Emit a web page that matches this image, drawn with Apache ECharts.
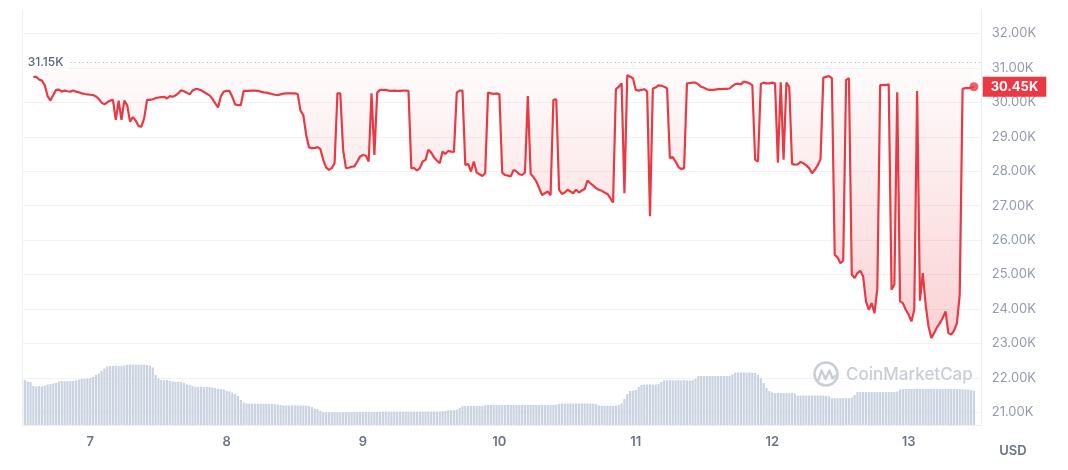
<!DOCTYPE html>
<html>
<head>
<meta charset="utf-8">
<script src="https://cdn.jsdelivr.net/npm/echarts@6/dist/echarts.min.js"></script>
<style>
  html, body { margin: 0; padding: 0; background: #ffffff; }
  #chart { width: 1068px; height: 470px; }
</style>
</head>
<body>
<div id="chart"></div>
<script>
// ---- time base (day of month, fractional) ----
const priceStart = 6 + 14 / 24;      // first price sample: day 6, 14:00
const volumeStart = 6 + 12.5 / 24;   // first volume bar: day 6, 12:30
const stepDays = 1 / 48;             // 30-minute samples
const axisMinDay = 6.505;
const axisMaxDay = 13.536;

// ---- reference level and price axis ticks ----
const refLevel = 31150;
const priceTicks = [21000, 22000, 23000, 24000, 25000, 26000, 27000, 28000, 29000, 30000, 31000, 32000];
const dayLabels = [7, 8, 9, 10, 11, 12, 13];

// ---- price (USD), 30-min samples ----
const priceValues = [
  30740, 30740, 30660, 30630, 30500, 30180, 30050, 30210, 30360, 30370,
  30310, 30340, 30320, 30310, 30340, 30310, 30290, 30260, 30240, 30230,
  30220, 30210, 30170, 30100, 29990, 29940, 30000, 30050, 30070, 29490,
  30050, 29490, 30050, 29920, 29440, 29570, 29470, 29310, 29290, 29540,
  30070, 30070, 30090, 30120, 30140, 30150, 30160, 30110, 30180, 30160,
  30200, 30260, 30350, 30320, 30280, 30230, 30340, 30380, 30380, 30350,
  30300, 30250, 30200, 30100, 29970, 29850, 30180, 30310, 30330, 30330,
  30160, 29940, 29920, 29920, 30330, 30330, 30330, 30340, 30340, 30330,
  30310, 30290, 30280, 30260, 30240, 30220, 30210, 30230, 30250, 30260,
  30260, 30260, 30260, 30240, 29760, 29630, 29050, 28690, 28670, 28670,
  28700, 28640, 28330, 28110, 28040, 28090, 28230, 30260, 30260, 28620,
  28090, 28100, 28130, 28140, 28280, 28430, 28470, 28450, 28280, 30260,
  28470, 30280, 30360, 30360, 30360, 30340, 30330, 30340, 30330, 30330,
  30340, 30340, 30330, 28090, 28090, 28020, 28090, 28280, 28330, 28620,
  28540, 28400, 28310, 28230, 28570, 28500, 28590, 28570, 28560, 30280,
  30340, 30340, 28180, 28210, 27990, 28280, 27960, 27910, 27860, 27940,
  30280, 30260, 30240, 30260, 30230, 27950, 27890, 27870, 27850, 28040,
  27990, 27910, 27890, 27960, 30180, 27920, 27830, 27700, 27510, 27310,
  27360, 27410, 27300, 30070, 30090, 27460, 27340, 27380, 27460, 27410,
  27360, 27460, 27380, 27440, 27480, 27730, 27650, 27580, 27510, 27460,
  27430, 27380, 27340, 27220, 27090, 30380, 30450, 30550, 27360, 30790,
  30740, 30700, 30360, 30340, 30360, 30380, 30310, 26690, 30400, 30430,
  30490, 30480, 30450, 30410, 28380, 28410, 28280, 28120, 28060, 28090,
  30550, 30560, 30570, 30570, 30520, 30450, 30420, 30380, 30360, 30360,
  30370, 30380, 30380, 30390, 30390, 30400, 30470, 30530, 30540, 30520,
  30600, 30580, 30550, 30500, 28330, 28280, 30530, 30570, 30550, 30550,
  30570, 30550, 28250, 30580, 28330, 30570, 30450, 28210, 28190, 28200,
  28270, 28230, 28170, 28090, 27940, 28040, 28170, 28350, 30720, 30740,
  30760, 30700, 25570, 25500, 25330, 25400, 30650, 30700, 25000, 24900,
  25040, 25110, 24950, 24220, 23980, 24170, 23880, 24600, 30500, 30500,
  30500, 30520, 24560, 24710, 30290, 24220, 24170, 23980, 23840, 23640,
  23980, 30330, 24240, 25040, 24130, 23500, 23160, 23300, 23470, 23590,
  23740, 23930, 23300, 23260, 23370, 23590, 24420, 30390, 30410, 30410,
  30420, 30450
];

// ---- volume (relative units), 30-min bars ----
const volumeValues = [
  45, 43.5, 43, 39, 38.5, 39, 38.5, 39.5, 40.5, 41,
  41.5, 42, 43.5, 44, 43.7, 43.7, 44, 43.8, 44.5, 45.5,
  46, 46, 46.5, 47, 48, 50, 51.5, 54, 56.5, 58.5,
  59, 59, 59.2, 59, 59.3, 59.5, 60.3, 60.5, 60.3, 60.5,
  60.3, 60.2, 60.5, 60, 59.5, 57.5, 50, 46.5, 45, 44.5,
  45, 44.2, 43.5, 43, 43.5, 43, 42, 40.5, 40, 39,
  38.2, 38.2, 38.3, 38, 38.2, 38, 37.5, 37, 36.2, 36,
  35.5, 34, 33.5, 32.5, 31, 29, 25, 22.5, 21.5, 21.3,
  21.3, 21.4, 21.3, 21.3, 21.2, 21.3, 21.3, 21, 20.8, 20.5,
  20, 19.6, 19.6, 19.5, 19.6, 19.7, 19.6, 19.5, 19.6, 19.4,
  19, 18, 16.5, 16, 14, 12.7, 12.6, 12.7, 12.7, 12.8,
  12.7, 12.6, 12.7, 12.8, 12.9, 12.9, 13.1, 13.1, 13.2, 13.1,
  13.1, 13.2, 13.1, 13.1, 13, 13.2, 13.4, 13.5, 13.4, 13.4,
  13.5, 13.4, 13.4, 13.3, 13.4, 13.5, 13.4, 13.4, 13.3, 13.4,
  13.4, 13.5, 13.4, 13.4, 13.5, 13.4, 13.6, 13.8, 14, 14.8,
  14.8, 14.8, 15.5, 17, 18.9, 18.9, 19, 18.9, 19, 18.9,
  19, 19.3, 19.8, 20, 20, 20.1, 20, 20, 19.9, 20,
  20, 20.2, 20, 19.9, 20, 20, 19.9, 20, 20.1, 20,
  20, 19.9, 20, 20, 19.9, 20, 20.2, 20.5, 21.2, 21.6,
  21.6, 21.6, 21.7, 21.6, 21.6, 21.5, 21.6, 21.6, 21.5, 21.4,
  21.3, 21, 19.5, 19.2, 19.2, 19.2, 19.3, 19.2, 19.4, 20,
  21.6, 26, 31, 34, 34.3, 35, 38, 40, 40.5, 40.5,
  40.6, 40.5, 40.5, 41, 43, 44.6, 44.6, 44.7, 44.6, 44.6,
  44.7, 44.6, 44.8, 44.6, 44.6, 44.8, 46, 49, 49, 49.1,
  49, 49, 49.2, 49, 49, 49.1, 49, 49, 49.2, 50.5,
  52.5, 52.5, 52.7, 52.5, 52.3, 52.5, 52.4, 52, 50, 47,
  42, 37, 34, 32.5, 31.9, 31.9, 32, 31.9, 31.8, 31.9,
  31.9, 31.5, 29.5, 29.5, 29.6, 29.5, 29.4, 29.5, 29.5, 29.6,
  29.5, 29.5, 29.3, 28.5, 26.8, 26.8, 26.8, 26.7, 26.8, 26.8,
  26.8, 27.5, 30, 32.9, 32.9, 33, 32.9, 32.9, 32.8, 32.9,
  32.9, 33, 32.9, 32.9, 32.9, 33, 32.9, 33.5, 35.5, 36,
  36, 36.1, 36, 36, 36.2, 36, 36, 36, 36.1, 36,
  36, 36, 35.9, 36, 36, 36, 35.8, 36, 35.9, 35.8,
  35.7, 35.6, 35.5, 35, 34.3
];

// ---- build series data ----
const priceData = priceValues.map((v, i) => [priceStart + i * stepDays, v]);
const volumeData = volumeValues.map((v, i) => [volumeStart + i * stepDays, v]);
const lastPoint = priceData[priceData.length - 1];
const fmtK = v => (v / 1000).toFixed(2) + 'K';

const RED = '#ea3943';
const GRID_L = 22.7, GRID_R = 86.3;
const FONT = 'Inter, "Noto Sans", sans-serif';

const chart = echarts.init(document.getElementById('chart'), null, { renderer: 'canvas' });

const option = {
  animation: false,
  backgroundColor: '#ffffff',
  grid: [
    { left: GRID_L, right: GRID_R, top: 33.4, bottom: 57.65 },   // price
    { left: GRID_L, right: GRID_R, top: 325, bottom: 45 },       // volume
    { left: GRID_L, right: GRID_R, top: 10, bottom: 45 }         // frame + day labels
  ],
  xAxis: [
    { type: 'value', gridIndex: 0, min: axisMinDay, max: axisMaxDay, show: false },
    { type: 'value', gridIndex: 1, min: axisMinDay, max: axisMaxDay, show: false },
    {
      type: 'value', gridIndex: 2, min: axisMinDay, max: axisMaxDay, splitNumber: 7,
      axisLine: { show: true, lineStyle: { color: '#eceff3', width: 1 } },
      axisTick: { show: false },
      splitLine: { show: false },
      axisLabel: {
        margin: 11, color: '#6b7486', fontSize: 13, fontWeight: 600, fontFamily: FONT,
        formatter: v => (dayLabels.indexOf(Math.round(v)) >= 0 && Math.abs(v - Math.round(v)) < 1e-6) ? String(Math.round(v)) : ''
      }
    }
  ],
  yAxis: [
    {
      type: 'value', gridIndex: 0, position: 'right',
      min: priceTicks[0], max: priceTicks[priceTicks.length - 1], interval: 1000,
      axisLine: { show: false }, axisTick: { show: false },
      splitLine: { show: true, lineStyle: { color: '#f0f2f5', width: 1 } },
      axisLabel: { margin: 10, color: '#939bab', fontSize: 13, fontFamily: FONT, formatter: fmtK }
    },
    {
      type: 'value', gridIndex: 1, min: 0, max: 100, show: false
    },
    {
      type: 'value', gridIndex: 2, position: 'left', min: 0, max: 1,
      axisLine: { show: true, lineStyle: { color: '#eceff3', width: 1 } },
      axisTick: { show: false }, axisLabel: { show: false }, splitLine: { show: false }
    },
    {
      type: 'value', gridIndex: 2, position: 'right', min: 0, max: 1,
      axisLine: { show: true, lineStyle: { color: '#eceff3', width: 1 } },
      axisTick: { show: false }, axisLabel: { show: false }, splitLine: { show: false }
    }
  ],
  series: [
    {
      name: 'Volume', type: 'bar', xAxisIndex: 1, yAxisIndex: 1,
      data: volumeData, barWidth: '78%', silent: true,
      itemStyle: { color: '#cbd3e1' }
    },
    {
      name: 'Price', type: 'line', xAxisIndex: 0, yAxisIndex: 0,
      data: priceData, showSymbol: false, symbol: 'none', silent: true,
      lineStyle: { color: RED, width: 2.2 },
      areaStyle: {
        origin: refLevel,
        color: new echarts.graphic.LinearGradient(0, 0, 0, 1, [
          { offset: 0, color: 'rgba(234,57,67,0.02)' },
          { offset: 1, color: 'rgba(234,57,67,0.32)' }
        ])
      },
      z: 3,
      markLine: {
        silent: true, symbol: 'none', animation: false,
        data: [
          {
            yAxis: refLevel,
            lineStyle: { color: '#a6adb9', width: 1, type: [1, 3] },
            label: {
              show: true, position: 'insideStart', distance: 0,
              formatter: p => fmtK(p.value),
              backgroundColor: '#ffffff', padding: [3, 5, 2, 5],
              color: '#58667e', fontSize: 12, fontWeight: 500, fontFamily: FONT
            }
          },
          {
            yAxis: lastPoint[1],
            lineStyle: { color: 'rgba(0,0,0,0)', width: 1, type: 'solid' },
            label: {
              show: true, position: 'end', distance: 1,
              formatter: p => fmtK(p.value),
              backgroundColor: RED, padding: [4, 8, 3, 8],
              color: '#ffffff', fontSize: 13, fontWeight: 'bold', fontFamily: FONT
            }
          }
        ]
      }
    },
    {
      name: 'Last', type: 'scatter', xAxisIndex: 0, yAxisIndex: 0,
      data: [lastPoint], symbolSize: 9, silent: true, z: 5,
      itemStyle: { color: RED }
    }
  ],
  graphic: [
    {
      type: 'circle', silent: true, z: 10,
      shape: { cx: 826, cy: 374, r: 11.5 },
      style: { fill: 'none', stroke: '#c9ced6', lineWidth: 2.6 }
    },
    {
      type: 'polyline', silent: true, z: 10,
      shape: { points: [[818.5, 380], [821.5, 370.5], [825.5, 379], [829.5, 370.5], [832.5, 378.5], [835, 376]] },
      style: { fill: 'none', stroke: '#c9ced6', lineWidth: 2.4, lineJoin: 'round', lineCap: 'round' }
    },
    {
      type: 'text', silent: true, z: 10,
      style: { text: 'CoinMarketCap', x: 846, y: 375, textVerticalAlign: 'middle', fill: '#c9ced6', font: '500 17px Inter, "Noto Sans", sans-serif' }
    },
    {
      type: 'text', silent: true, z: 10,
      style: { text: 'USD', x: 1013, y: 451, textAlign: 'center', textVerticalAlign: 'middle', fill: '#6b7486', font: '600 13px Inter, "Noto Sans", sans-serif' }
    }
  ]
};

chart.setOption(option);
</script>
</body>
</html>
